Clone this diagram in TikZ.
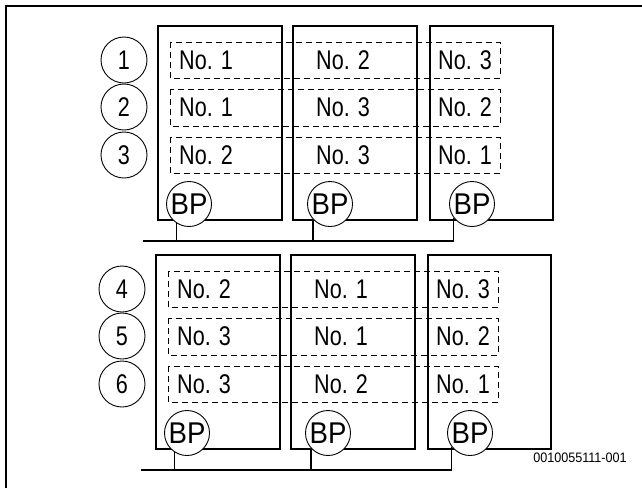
\documentclass[tikz,border=0pt]{standalone}
\usepackage{fontspec}
\setmainfont{Liberation Sans}[FakeStretch=0.8]
\newfontfamily\widefont{Liberation Sans}[FakeStretch=0.92]
\begin{document}
\begin{tikzpicture}[x=1pt, y=-1pt,
    unit/.style={draw, line width=1.1pt},
    slot/.style={draw, dash pattern=on 6pt off 4pt, line width=0.9pt},
    posmark/.style={circle, draw, line width=0.9pt, minimum size=46pt,
                inner sep=0pt, font=\fontsize{27}{27}\selectfont},
    bp/.style={circle, draw, fill=white, line width=0.9pt, minimum size=45pt,
               inner sep=0pt, font=\widefont\fontsize{30}{30}\selectfont},
    lbl/.style={inner sep=0pt, font=\fontsize{27}{27}\selectfont},
    bus/.style={line width=1.1pt}]
  \useasboundingbox (0,0) rectangle (642,488);
  \draw[line width=1.6pt] (6,488) -- (6,6) -- (642,6);
  % two groups of three cabinets
  \foreach \g/\dx/\dy in {1/0/0, 2/-2/229} {
    \begin{scope}[shift={(\dx,\dy)}]
      \foreach \bx/\ex/\cx [count=\k] in {158/282/189, 293/417/330, 430/553/472} {
        \draw[unit] (\bx,26) rectangle (\ex,220);
        \node[bp] (bp\g-\k) at (\cx,204) {BP};
      }
      \foreach \ya/\yb in {42/78, 89/126, 137/173}
        \draw[slot] (170,\ya) rectangle (500,\yb);
      \coordinate (bus\g) at (143,241);
      \draw[bus] (bus\g) -| (bp\g-3.217);
      \foreach \k/\ang in {1/237, 2/222}
        \draw[bus] (bp\g-\k.\ang) -- (bp\g-\k.\ang |- bus\g);
    \end{scope}
  }
  % positions and order
  \foreach \p/\y/\dx/\a/\b/\c in {1/60/0/1/2/3, 2/107/0/1/3/2, 3/155/0/2/3/1,
                                 4/289/-2/2/1/3, 5/336/-2/3/1/2, 6/384/-2/3/2/1} {
    \node[posmark] (pos\p) at (124+\dx,\y) {\p};
    \node[lbl] (no\p-1) at (206+\dx,\y) {No. \a};
    \node[lbl] (no\p-2) at (343+\dx,\y) {No. \b};
    \node[lbl] (no\p-3) at (465+\dx,\y) {No. \c};
  }
  \node[inner sep=0pt, font=\widefont\fontsize{13.7}{14}\selectfont] (code) at (580,458) {0010055111-001};
\end{tikzpicture}
\end{document}
